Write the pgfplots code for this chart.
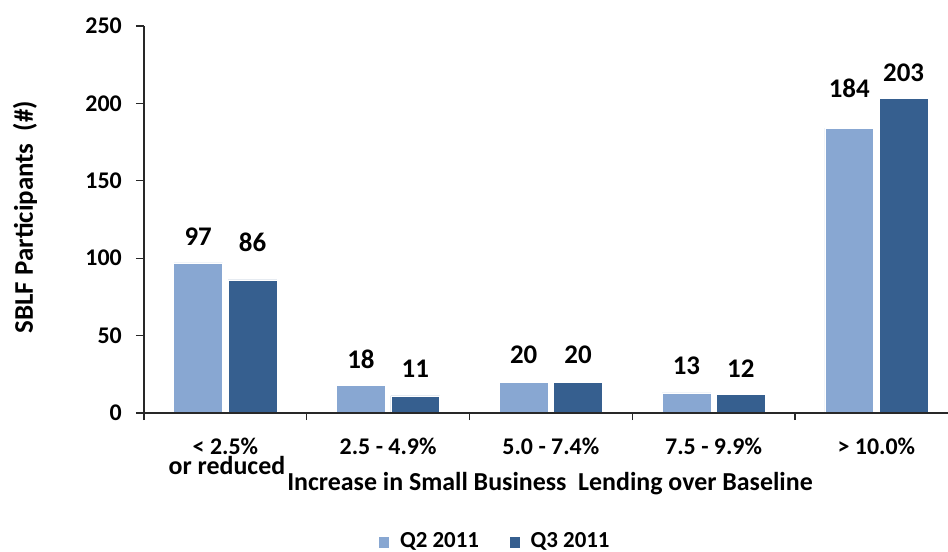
\documentclass[border=0pt]{standalone}
\usepackage{pgfplots}
\pgfplotsset{compat=1.18}
\usepackage{fontspec}
\setmainfont{Carlito}

\definecolor{qtwo}{RGB}{136,167,210}
\definecolor{qthree}{RGB}{54,95,143}
\definecolor{axisgray}{RGB}{40,40,40}

\begin{document}
\begin{tikzpicture}
\useasboundingbox (0,0) rectangle (948bp,552bp);
\begin{axis}[
    at={(144bp,139bp)}, anchor=south west,
    scale only axis,
    width=804bp, height=387bp,
    xmin=-0.5, xmax=4.44,
    ymin=0, ymax=250,
    axis on top,
    axis x line*=bottom, axis y line*=left,
    x axis line style={-, line width=1.2bp, axisgray},
    y axis line style={-, line width=1.2bp, axisgray},
    xtick={0,1,2,3,4},
    xticklabels={{< 2.5\%}, {2.5 - 4.9\%}, {5.0 - 7.4\%}, {7.5 - 9.9\%}, {> 10.0\%}},
    minor xtick={-0.5,0.5,1.5,2.5,3.5},
    ytick={0,50,100,150,200,250},
    tick align=outside,
    major x tick style={draw=none},
    minor x tick style={line width=1.2bp, axisgray},
    minor tick length=7bp,
    major y tick style={line width=1.2bp, axisgray},
    major tick length=8bp,
    /pgf/number format/assume math mode=true,
    tick label style={font=\bfseries\fontsize{24}{24}\selectfont, inner sep=0pt},
    yticklabel style={anchor=east, xshift=-14bp},
    xticklabel style={anchor=base, yshift=-33bp},
    ylabel={SBLF Participants~ (\#)},
    ylabel style={font=\bfseries\fontsize{27}{27}\selectfont, at={(axis description cs:-0.148,0.506)}, anchor=center},
    legend style={at={(axis description cs:0.4366,-0.331)}, anchor=center, draw=none, fill=none,
        font=\bfseries\fontsize{23}{23}\selectfont, legend columns=2, inner sep=0pt,
        /tikz/every odd column/.append style={column sep=8bp},
        /tikz/every even column/.append style={column sep=28bp}},
    legend image code/.code={\fill[#1] (0bp,-7bp) rectangle (11bp,5bp);},
    nodes near coords style={font=\bfseries\fontsize{27}{27}\selectfont, anchor=center, inner sep=0pt, text=black},
    clip=false,
]

% Q2 2011
\addplot[ybar, bar width=0.3, bar shift=-0.167, fill=qtwo, draw=white, line width=0.6bp]
    coordinates {(0,97) (1,18) (2,20) (3,13) (4,184)};
\addlegendentry{Q2 2011}

% Q3 2011
\addplot[ybar, bar width=0.3, bar shift=0.167, fill=qthree, draw=white, line width=0.6bp]
    coordinates {(0,86) (1,11) (2,20) (3,12) (4,203)};
\addlegendentry{Q3 2011}

% value labels (placed by hand in the original)
\addplot[draw=none, mark=none, forget plot, nodes near coords, point meta=explicit symbolic]
    coordinates {
      (-0.167,113.7)[97]  (0.167,110.5)[86]
      (0.833,34.9)[18]    (1.167,28.4)[11]
      (1.833,37.5)[20]    (2.167,37.5)[20]
      (2.833,30.4)[13]    (3.167,28.4)[12]
      (3.833,210)[184]    (4.167,220)[203]
    };

\end{axis}

\node[anchor=base, inner sep=0pt, font=\bfseries\fontsize{26}{26}\selectfont] at (227bp,77bp) {or reduced};
\node[anchor=base, inner sep=0pt, font=\bfseries\fontsize{26}{26}\selectfont] at (550bp,61bp) {Increase in Small Business~ Lending over Baseline};
\end{tikzpicture}
\end{document}
